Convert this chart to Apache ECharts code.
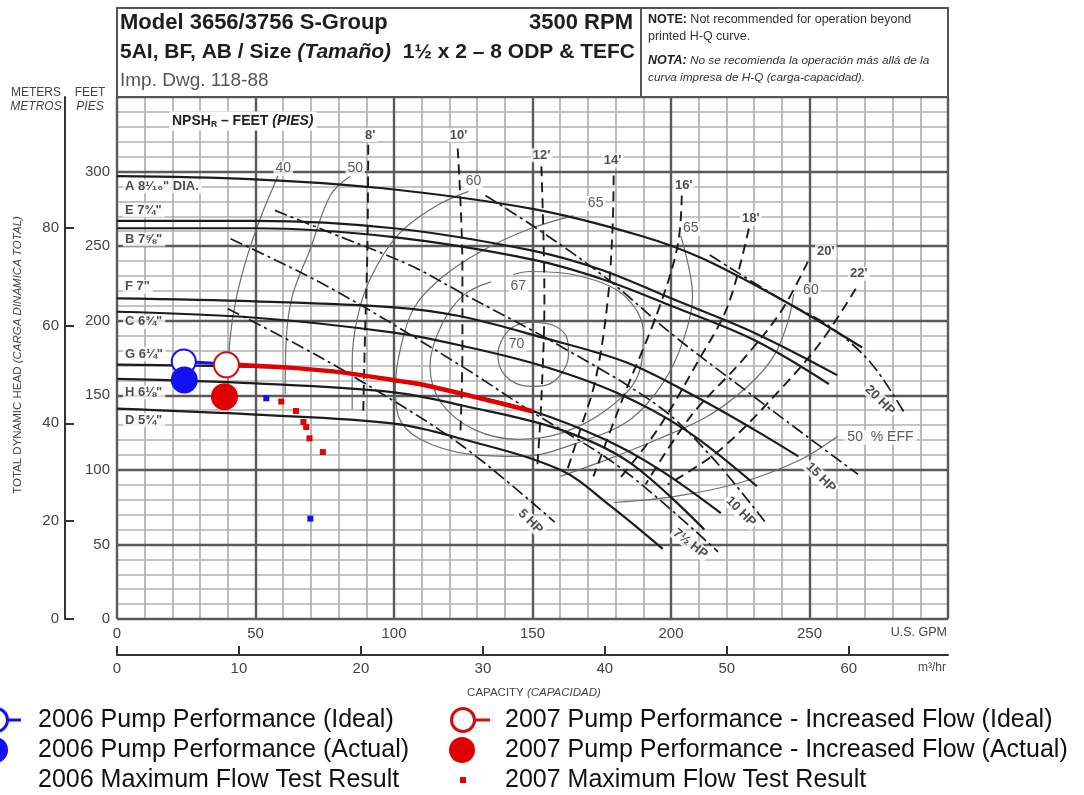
<!DOCTYPE html>
<html>
<head>
<meta charset="utf-8">
<script src="https://cdn.jsdelivr.net/npm/echarts@6/dist/echarts.min.js"></script>
<style>
html,body{margin:0;padding:0;background:#fff;}
#chart{width:1084px;height:795px;}
</style>
</head>
<body>
<div id="chart"></div>
<script>
// Pump performance curves: capacity in U.S. GPM (x), total dynamic head in feet (y)

// Axis ticks
const gpmTicks = [0, 50, 100, 150, 200, 250];
const feetTicks = [0, 50, 100, 150, 200, 250, 300];
const meterTicks = [0, 20, 40, 60, 80];
const m3hTicks = [0, 10, 20, 30, 40, 50, 60];

// Impeller head-capacity curves
const impA = [[0,297],[48,295],[95,289],[150,275],[189,257],[211,242],[241,213],[269,182]];
const impE = [[0,267],[50,267],[100,262],[150,247],[175,234],[200,215],[230,192],[260,163.5]];
const impB = [[0,262],[50,262],[100,256],[150,241],[175,228],[200,210],[230,187],[257,157.5]];
const impF = [[0,215],[50,213],[100,209],[124,203],[153,189],[184,172],[208,150],[230,127],[246,109]];
const impC = [[0,206],[50,202],[100,192],[125,183],[153,170],[180,152],[205,127],[231,89]];
const impG = [[0,170.5],[50,169],[77,166.5],[100,160],[125,151],[150,139.5],[176,120.5],[196,100],[218,71]];
const impH = [[0,161],[50,158],[100,152],[125,143],[160,127],[185,105],[212,60]];
const impD = [[0,141],[50,137],[100,131],[124,121],[160,100],[178,76],[197,47]];
const impellerLabels = [
  ['A 8¹⁄₁₆" DIA.', 2, 290], ['E 7¾"', 2, 274], ['B 7⅝"', 2, 254.4], ['F 7"', 2, 222.7],
  ['C 6¾"', 2, 199.2], ['G 6¼"', 2, 177.7], ['H 6⅛"', 2, 152.1], ['D 5¾"', 2, 133.2]
];

// Motor power limits (HP)
const hp20 = [[214,244],[241,213],[257,196.5],[272,172],[284,139]];
const hp15 = [[133,284],[153,260],[177,228],[201,190],[225,156],[249,122.5],[267.5,97]];
const hp10 = [[57,274],[77,259],[106,237],[124,219],[160,183],[196,142],[215,108],[234,65]];
const hp7_5 = [[41,255],[77,222],[124,170],[148,141],[182,101],[217,45]];
const hp5 = [[40,208],[66,183],[85,163],[124,117],[158,65]];
const hpLabels = [
  ['5 HP', 149.3, 65.3, -45], ['7½ HP', 207, 50.5, -38], ['10 HP', 225.2, 72, -45],
  ['15 HP', 254.1, 94.9, -45], ['20 HP', 275.4, 146.7, -45]
];

// NPSH required lines (feet)
const npsh8 = [[90.7,318],[90.4,248],[89.6,194.5],[88.9,139]];
const npsh10 = [[123,315.5],[124.7,235],[124.7,181],[124,126]];
const npsh12 = [[153.2,303.5],[154.3,214.7],[153.2,147.4],[151.8,103.6]];
const npsh14 = [[179.3,297.4],[178.9,261.8],[177.1,212.7],[172.8,160.8],[167.3,127.2],[162.6,100.3]];
const npsh16 = [[203.9,284],[202.4,250.3],[195.2,205.9],[182.9,149.4],[172,95.6]];
const npsh18 = [[228.1,261.8],[220.5,210],[209.6,172.3],[195.2,127.2],[181.8,94.9]];
const npsh20 = [[249.4,239.6],[239.6,205.9],[225.2,172.3],[207.1,135.9],[190.8,90.2]];
const npsh22 = [[266.7,221.4],[254.1,185.7],[239.6,154.1],[217.9,113.7],[198.8,90.2]];
const npshLabels = [
  ["8'", 91.4, 324.5], ["10'", 123.3, 324.5], ["12'", 153.3, 310.9], ["14'", 178.9, 307.5],
  ["16'", 204.6, 290.7], ["18'", 228.8, 268.5], ["20'", 255.9, 246.3], ["22'", 267.8, 231.5]
];

// Efficiency contours (%)
const eff40 = [[58.2,297.4],[52.4,271.9],[47.3,245],[43,214.7],[40.8,187.8],[40.1,152.8]];
const eff50 = [[84.2,296.8],[77,284],[69.8,248.3],[63.3,216.7],[61.1,187.8],[60.7,150.7]];
const eff60 = [[126.9,286.7],[114.9,276.6],[101.2,257.1],[91.4,228.1],[86.7,201.2],[84.9,172.3],[84.9,140.6]];
const eff65 = [[164.8,270.5],[149.3,261.8],[131.2,246.3],[116.7,228.1],[107,207.9],[102.3,181],[100.5,156.1],
  [101.6,135.9],[109.5,120.5],[127.6,110.4],[145.7,109],[169.9,120.5],[185.4,133.9],[197.3,158.8],
  [204.6,187.8],[207.8,216.7],[203.5,257.1]];
const eff67 = [[143,231],[149,233],[167,230],[183,217],[190,192.5],[188,163],[177,140.6],[161,125],
  [145,120.5],[129,127],[117,145],[113,170],[117,196.5],[125,217],[135,226]];
const eff70 = [[150,199],[158,196.5],[162.5,188],[163,177.5],[161,166],[156,157.5],[150,156],[144,158],
  [139,166],[137.5,177.5],[139.5,189],[143.5,196.5],[150,199]];
const eff60r = [[244.3,218],[242.2,199.2],[237.1,176.3],[227.7,156.1],[213.2,135.9],[195.2,120.5],[177.1,107],[160.1,95.6]];
const eff50r = [[260.2,122.5],[246.9,107],[225.2,91.5],[201,82.1],[179.3,78.1]];
const effLabels = [
  ['40', 60, 302.2], ['50', 86, 302.2], ['60', 128.7, 293.4], ['65', 172.8, 278.6],
  ['67', 144.9, 223.4], ['70', 144.2, 184.4], ['65', 207.1, 261.8], ['60', 250.5, 220.7]
];
const effEndLabel = [['50  % EFF', 262.4, 121.8]];

// Field results
const ideal2006 = [[24.1,172.7],[39.5,171]];
const actual2006 = [[24.3,160.3]];
const maxFlow2006 = [[53.9,148],[69.8,67.3]];
const ideal2007 = [[39.5,170.4],[44.5,170.3],[77,166.2],[102.3,159.5],[113,156.1],[150,139.3]];
const actual2007 = [[38.8,149.1]];
const maxFlow2007 = [[59.3,145.8],[64.6,139.5],[67.3,132.1],[68.3,128.7],[69.5,121.1],[74.3,111.9]];

const legendLeft = ['2006 Pump Performance (Ideal)', '2006 Pump Performance (Actual)', '2006 Maximum Flow Test Result'];
const legendRight = ['2007 Pump Performance - Increased Flow (Ideal)', '2007 Pump Performance - Increased Flow (Actual)', '2007 Maximum Flow Test Result'];

const FT_PER_M = 3.28084;
const GPM_PER_M3H = 4.40287;

const FONT = '"Liberation Sans", Arial, sans-serif';
const FONT_N = '"Liberation Sans Narrow", "Liberation Sans", Arial, sans-serif';
const BLUE = '#1010f0';
const RED = '#e00000';

function curve(name, data, lineStyle, z) {
  return { type: 'line', name: name, data: data, smooth: 0.35, symbol: 'none', silent: true,
    z: z, lineStyle: lineStyle, animation: false };
}
const impStyle = { color: '#1c1c1c', width: 2.2 };
const hpStyle = { color: '#1c1c1c', width: 1.7, type: [13, 4, 3, 4] };
const npshStyle = { color: '#1c1c1c', width: 1.9, type: [10, 6] };
const effStyle = { color: '#6e6e6e', width: 1.2 };

function textMarks(name, items, label, z) {
  return {
    type: 'scatter', name: name, silent: true, z: z, symbolSize: 1, animation: false,
    itemStyle: { color: 'rgba(0,0,0,0)' },
    data: items.map(function (it) {
      return { value: [it[1], it[2]], label: { formatter: it[0], rotate: it[3] || 0 } };
    }),
    label: Object.assign({ show: true, position: 'inside' }, label)
  };
}

const series = [
  curve('eff40', eff40, effStyle, 2), curve('eff50', eff50, effStyle, 2), curve('eff60', eff60, effStyle, 2),
  curve('eff65', eff65, effStyle, 2), curve('eff67', eff67, effStyle, 2), curve('eff70', eff70, effStyle, 2),
  curve('eff60r', eff60r, effStyle, 2), curve('eff50r', eff50r, effStyle, 2),
  curve('npsh8', npsh8, npshStyle, 3), curve('npsh10', npsh10, npshStyle, 3), curve('npsh12', npsh12, npshStyle, 3),
  curve('npsh14', npsh14, npshStyle, 3), curve('npsh16', npsh16, npshStyle, 3), curve('npsh18', npsh18, npshStyle, 3),
  curve('npsh20', npsh20, npshStyle, 3), curve('npsh22', npsh22, npshStyle, 3),
  curve('hp20', hp20, hpStyle, 3), curve('hp15', hp15, hpStyle, 3), curve('hp10', hp10, hpStyle, 3),
  curve('hp7_5', hp7_5, hpStyle, 3), curve('hp5', hp5, hpStyle, 3),
  curve('A', impA, impStyle, 4), curve('E', impE, impStyle, 4), curve('B', impB, impStyle, 4),
  curve('F', impF, impStyle, 4), curve('C', impC, impStyle, 4), curve('G', impG, impStyle, 4),
  curve('H', impH, impStyle, 4), curve('D', impD, impStyle, 4),
  textMarks('impellerLabels', impellerLabels, {
    position: 'right', distance: 0, fontFamily: FONT, fontWeight: 'bold', fontSize: 13, color: '#222',
    backgroundColor: '#fff', padding: [1, 3, 0, 2]
  }, 6),
  textMarks('npshLabels', npshLabels, {
    fontFamily: FONT, fontWeight: 'bold', fontSize: 13, color: '#222', backgroundColor: '#fff', padding: [1, 2, 0, 2]
  }, 6),
  textMarks('effLabels', effLabels, {
    fontFamily: FONT, fontSize: 14, color: '#333', backgroundColor: '#fff', padding: [1, 2, 0, 2]
  }, 6),
  textMarks('effEndLabel', effEndLabel, {
    position: 'right', distance: 0, fontFamily: FONT, fontSize: 14, color: '#333',
    backgroundColor: '#fff', padding: [1, 3, 0, 3]
  }, 6),
  textMarks('hpLabels', hpLabels, {
    fontFamily: FONT, fontWeight: 'bold', fontSize: 13, color: '#222', backgroundColor: '#fff', padding: [1, 2, 0, 2]
  }, 6),
  {
    type: 'line', name: legendLeft[0], z: 10, silent: true, animation: false,
    data: ideal2006.map(function (p, i) {
      return i === 0 ? { value: p, symbol: 'emptyCircle', symbolSize: 24 } : { value: p, symbol: 'none' };
    }),
    lineStyle: { color: BLUE, width: 3 }, itemStyle: { color: BLUE, borderWidth: 3 }
  },
  {
    type: 'scatter', name: legendLeft[1], z: 11, silent: true, animation: false,
    data: actual2006, symbol: 'circle', symbolSize: 27, itemStyle: { color: BLUE, opacity: 1 }
  },
  {
    type: 'scatter', name: legendLeft[2], z: 11, silent: true, animation: false,
    data: maxFlow2006, symbol: 'rect', symbolSize: 6, itemStyle: { color: BLUE, opacity: 1 }
  },
  {
    type: 'line', name: legendRight[0], z: 10, silent: true, animation: false, smooth: 0.3,
    data: ideal2007.map(function (p, i) {
      return i === 0 ? { value: p, symbol: 'emptyCircle', symbolSize: 25 } : { value: p, symbol: 'none' };
    }),
    lineStyle: { color: RED, width: 4.5 }, itemStyle: { color: '#cc1010', borderWidth: 3 }
  },
  {
    type: 'scatter', name: legendRight[1], z: 11, silent: true, animation: false,
    data: actual2007, symbol: 'circle', symbolSize: 27, itemStyle: { color: RED, opacity: 1 }
  },
  {
    type: 'scatter', name: legendRight[2], z: 11, silent: true, animation: false,
    data: maxFlow2007, symbol: 'rect', symbolSize: 6, itemStyle: { color: RED, opacity: 1 }
  }
];

const tickLabel = { color: '#444', fontSize: 15, fontFamily: FONT_N };

// Header, axis titles and legend drawn as page graphics
const graphic = [
  { type: 'rect', z: 20, shape: { x: 117, y: 8, width: 831, height: 89 }, style: { fill: '#fff', stroke: '#555', lineWidth: 2 } },
  { type: 'line', z: 21, shape: { x1: 641, y1: 8, x2: 641, y2: 97 }, style: { stroke: '#555', lineWidth: 2 } },
  { type: 'text', z: 21, x: 120, y: 23, style: { text: 'Model 3656/3756 S-Group', font: 'bold 22px ' + FONT, fill: '#1e1e1e', verticalAlign: 'middle' } },
  { type: 'text', z: 21, x: 633, y: 23, style: { text: '3500 RPM', font: 'bold 22px ' + FONT, fill: '#1e1e1e', align: 'right', verticalAlign: 'middle' } },
  { type: 'text', z: 21, x: 120, y: 52, style: {
      text: '5AI, BF, AB / Size {i|(Tamaño)}  1½ x 2 – 8 ODP & TEFC', font: 'bold 21px ' + FONT, fill: '#1e1e1e', verticalAlign: 'middle',
      rich: { i: { fontStyle: 'italic', fontWeight: 'bold', fontSize: 21, fontFamily: FONT, fill: '#1e1e1e' } } } },
  { type: 'text', z: 21, x: 120, y: 81, style: { text: 'Imp. Dwg. 118-88', font: '19px ' + FONT, fill: '#555', verticalAlign: 'middle' } },
  { type: 'text', z: 21, x: 648, y: 20, style: { text: '{b|NOTE:} Not recommended for operation beyond', font: '12.5px ' + FONT, fill: '#333', verticalAlign: 'middle',
      rich: { b: { fontWeight: 'bold', fontSize: 12.5, fontFamily: FONT, fill: '#222' } } } },
  { type: 'text', z: 21, x: 648, y: 37, style: { text: 'printed H-Q curve.', font: '12.5px ' + FONT, fill: '#333', verticalAlign: 'middle' } },
  { type: 'text', z: 21, x: 648, y: 61, style: { text: '{b|NOTA:} No se recomienda la operación más allá de la', font: 'italic 11.8px ' + FONT, fill: '#333', verticalAlign: 'middle',
      rich: { b: { fontWeight: 'bold', fontStyle: 'italic', fontSize: 12.5, fontFamily: FONT, fill: '#222' } } } },
  { type: 'text', z: 21, x: 648, y: 78, style: { text: 'curva impresa de H-Q (carga-capacidad).', font: 'italic 11.8px ' + FONT, fill: '#333', verticalAlign: 'middle' } },

  { type: 'text', z: 21, x: 169, y: 121, style: {
      text: '{b|NPSH}{s|R}{b| – FEET }{bi|(PIES)}', backgroundColor: '#fff', padding: [2, 3, 1, 3],
      rich: {
        b: { fontWeight: 'bold', fontSize: 14, fontFamily: FONT, fill: '#222' },
        s: { fontWeight: 'bold', fontSize: 8.5, fontFamily: FONT, fill: '#222', verticalAlign: 'bottom', lineHeight: 16 },
        bi: { fontWeight: 'bold', fontStyle: 'italic', fontSize: 14, fontFamily: FONT, fill: '#222' }
      }, verticalAlign: 'middle' } },

  { type: 'text', z: 21, x: 36, y: 93, style: { text: 'METERS', font: '12px ' + FONT_N, fill: '#444', align: 'center', verticalAlign: 'middle' } },
  { type: 'text', z: 21, x: 36, y: 107, style: { text: 'METROS', font: 'italic 12px ' + FONT_N, fill: '#444', align: 'center', verticalAlign: 'middle' } },
  { type: 'text', z: 21, x: 90, y: 93, style: { text: 'FEET', font: '12px ' + FONT_N, fill: '#444', align: 'center', verticalAlign: 'middle' } },
  { type: 'text', z: 21, x: 90, y: 107, style: { text: 'PIES', font: 'italic 12px ' + FONT_N, fill: '#444', align: 'center', verticalAlign: 'middle' } },
  { type: 'text', z: 21, x: 18, y: 355, rotation: Math.PI / 2, style: {
      text: 'TOTAL DYNAMIC HEAD {i|(CARGA DINÁMICA TOTAL)}', font: '11.5px ' + FONT_N, fill: '#444', align: 'center', verticalAlign: 'middle',
      rich: { i: { fontStyle: 'italic', fontSize: 11.5, fontFamily: FONT_N, fill: '#444' } } } },
  { type: 'text', z: 21, x: 947, y: 633, style: { text: 'U.S. GPM', font: '12.5px ' + FONT_N, fill: '#444', align: 'right', verticalAlign: 'middle' } },
  { type: 'text', z: 21, x: 932, y: 668, style: { text: 'm³/hr', font: '12px ' + FONT_N, fill: '#444', align: 'center', verticalAlign: 'middle' } },
  { type: 'text', z: 21, x: 534, y: 693, style: {
      text: 'CAPACITY {i|(CAPACIDAD)}', font: '11.5px ' + FONT_N, fill: '#444', align: 'center', verticalAlign: 'middle',
      rich: { i: { fontStyle: 'italic', fontSize: 11.5, fontFamily: FONT_N, fill: '#444' } } } },

  // legend keys
  { type: 'circle', z: 21, shape: { cx: -4, cy: 720, r: 11.5 }, style: { fill: '#fff', stroke: BLUE, lineWidth: 3 } },
  { type: 'line', z: 21, shape: { x1: 8, y1: 720, x2: 21, y2: 720 }, style: { stroke: BLUE, lineWidth: 3 } },
  { type: 'circle', z: 21, shape: { cx: -5, cy: 750, r: 13 }, style: { fill: BLUE } },
  { type: 'circle', z: 21, shape: { cx: 463, cy: 720, r: 11.5 }, style: { fill: '#fff', stroke: '#cc1010', lineWidth: 3 } },
  { type: 'line', z: 21, shape: { x1: 475, y1: 720, x2: 490, y2: 720 }, style: { stroke: '#cc1010', lineWidth: 3 } },
  { type: 'circle', z: 21, shape: { cx: 462, cy: 750, r: 13 }, style: { fill: RED } },
  { type: 'rect', z: 21, shape: { x: 460, y: 777, width: 6, height: 6 }, style: { fill: RED } }
];
legendLeft.forEach(function (t, i) {
  graphic.push({ type: 'text', z: 21, x: 38, y: 720 + 30 * i, style: { text: t, font: '25px ' + FONT, fill: '#111', verticalAlign: 'middle' } });
});
legendRight.forEach(function (t, i) {
  graphic.push({ type: 'text', z: 21, x: 505, y: 720 + 30 * i, style: { text: t, font: '25px ' + FONT, fill: '#111', verticalAlign: 'middle' } });
});

const option = {
  animation: false,
  backgroundColor: '#fff',
  grid: { left: 117, right: 136, top: 97, bottom: 176, containLabel: false },
  xAxis: [
    { type: 'value', min: 0, max: 300, interval: 10, position: 'bottom',
      axisLine: { show: false, onZero: false }, axisTick: { show: false }, axisLabel: { show: false },
      splitLine: { show: true, lineStyle: { color: '#b0b0b0', width: 1.7 } } },
    { type: 'value', min: 0, max: 300, interval: 50, position: 'bottom', z: 1,
      axisLine: { show: false, onZero: false }, axisTick: { show: false },
      axisLabel: Object.assign({ show: true, margin: 7, customValues: gpmTicks }, tickLabel),
      splitLine: { show: true, lineStyle: { color: '#5a5a5a', width: 2.4 } } },
    { type: 'value', min: 0, max: 300 / GPM_PER_M3H, position: 'bottom', offset: 36,
      axisLine: { show: true, onZero: false, lineStyle: { color: '#333', width: 2 } },
      axisTick: { show: true, inside: true, length: 9, customValues: m3hTicks, lineStyle: { color: '#333', width: 2 } },
      axisLabel: Object.assign({ show: true, margin: 6, customValues: m3hTicks }, tickLabel),
      splitLine: { show: false } }
  ],
  yAxis: [
    { type: 'value', min: 0, max: 350, interval: 10, position: 'left',
      axisLine: { show: false, onZero: false }, axisTick: { show: false }, axisLabel: { show: false },
      splitLine: { show: true, lineStyle: { color: '#b0b0b0', width: 1.7 } } },
    { type: 'value', min: 0, max: 350, interval: 50, position: 'left', z: 1,
      axisLine: { show: false, onZero: false }, axisTick: { show: false },
      axisLabel: Object.assign({ show: true, margin: 7, customValues: feetTicks }, tickLabel),
      splitLine: { show: true, lineStyle: { color: '#5a5a5a', width: 2.4 } } },
    { type: 'value', min: 0, max: 350 / FT_PER_M, position: 'left', offset: 52,
      axisLine: { show: true, onZero: false, lineStyle: { color: '#333', width: 2 } },
      axisTick: { show: true, inside: true, length: 9, customValues: meterTicks, lineStyle: { color: '#333', width: 2 } },
      axisLabel: Object.assign({ show: true, margin: 6, customValues: meterTicks }, tickLabel),
      splitLine: { show: false } }
  ],
  series: series,
  graphic: graphic
};

const chart = echarts.init(document.getElementById('chart'), null, { renderer: 'canvas' });
chart.setOption(option);
</script>
</body>
</html>
